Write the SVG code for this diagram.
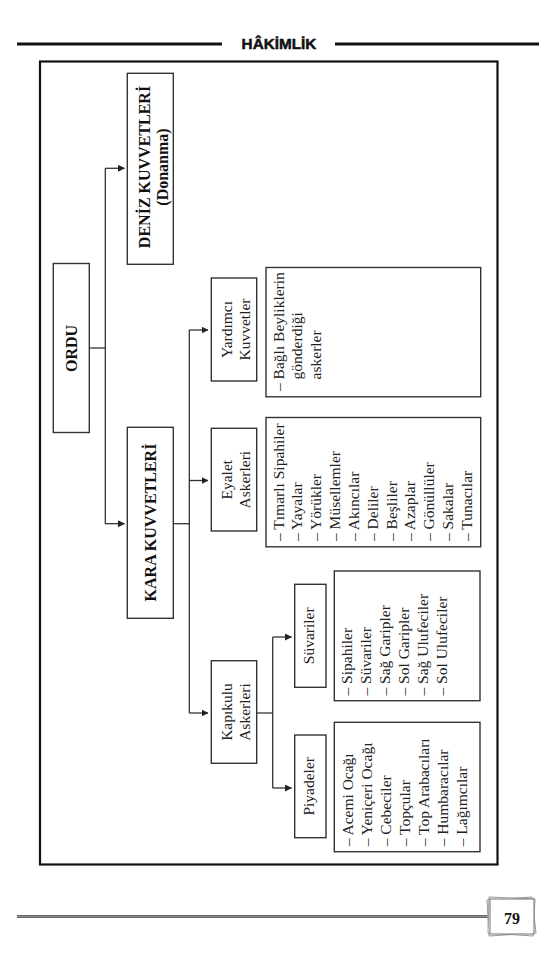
<svg xmlns="http://www.w3.org/2000/svg" width="557" height="960" viewBox="0 0 557 960">
<defs>
<marker id="ah" markerWidth="7" markerHeight="7" refX="6.5" refY="3.5" orient="auto" markerUnits="userSpaceOnUse">
<path d="M0,0 L7,3.5 L0,7 Z" fill="#222"/>
</marker>
<style>
.box{fill:#fff;stroke:#333;stroke-width:1.4}
.frame{fill:none;stroke:#111;stroke-width:2.2}
.conn{fill:none;stroke:#333;stroke-width:1.3}
.arr{fill:none;stroke:#333;stroke-width:1.3;marker-end:url(#ah)}
.t{font-family:"Liberation Serif","Times New Roman",serif;font-size:15.5px;fill:#222}
.tb{font-family:"Liberation Serif","Times New Roman",serif;font-size:16px;font-weight:bold;fill:#111}
.hd{font-family:"Liberation Sans",Arial,sans-serif;font-size:15.3px;font-weight:bold;fill:#111;stroke:#111;stroke-width:0.5}
</style>
</defs>
<rect width="557" height="960" fill="#fff"/>

<g id="header">
<line x1="17" y1="44" x2="222" y2="44" stroke="#111" stroke-width="3"/>
<line x1="335" y1="44" x2="539" y2="44" stroke="#111" stroke-width="3"/>
<text class="hd" x="279" y="48.5" text-anchor="middle">HÂKİMLİK</text>
</g>

<rect class="frame" x="40" y="61.5" width="457.5" height="803"/>

<g id="connectors">
<path class="conn" d="M89.3,348 H105.3"/>
<path class="conn" d="M105.3,168.3 V523.7"/>
<path class="arr" d="M105.3,168.3 H124.5"/>
<path class="arr" d="M105.3,523.7 H124.5"/>
<path class="conn" d="M173.3,523.7 H189.3"/>
<path class="conn" d="M189.3,330 V713"/>
<path class="arr" d="M189.3,330 H208"/>
<path class="arr" d="M189.3,480.5 H208"/>
<path class="arr" d="M189.3,713 H208"/>
<path class="conn" d="M256.7,713 H272.7"/>
<path class="conn" d="M272.7,637 V788"/>
<path class="arr" d="M272.7,637 H291.5"/>
<path class="arr" d="M272.7,788 H291.5"/>
</g>

<g id="ordu">
<rect class="box" x="53.3" y="263.5" width="36" height="169"/>
<text class="tb" transform="translate(0,348.5) rotate(-90)" text-anchor="middle" x="0" y="76.8">ORDU</text>
</g>

<g id="deniz">
<rect class="box" x="127.3" y="73.3" width="46" height="191"/>
<text class="tb" transform="translate(0,167) rotate(-90)" text-anchor="middle"><tspan x="0" y="149.8">DENİZ KUVVETLERİ</tspan><tspan x="0" y="167.8">(Donanma)</tspan></text>
</g>

<g id="kara">
<rect class="box" x="127.3" y="427.3" width="46" height="191"/>
<text class="tb" transform="translate(0,522.5) rotate(-90)" text-anchor="middle" x="0" y="156">KARA KUVVETLERİ</text>
</g>

<g id="yardimci">
<rect class="box" x="211.3" y="278" width="45.4" height="103"/>
<text class="t" transform="translate(0,329.5) rotate(-90)" text-anchor="middle"><tspan x="0" y="231.5">Yardımcı</tspan><tspan x="0" y="249.5">Kuvvetler</tspan></text>
</g>

<g id="eyalet">
<rect class="box" x="211.3" y="428.3" width="45.4" height="102.7"/>
<text class="t" transform="translate(0,479.7) rotate(-90)" text-anchor="middle"><tspan x="0" y="231.5">Eyalet</tspan><tspan x="0" y="249.5">Askerleri</tspan></text>
</g>

<g id="kapikulu">
<rect class="box" x="211.3" y="660.7" width="45.4" height="102.6"/>
<text class="t" transform="translate(0,712) rotate(-90)" text-anchor="middle"><tspan x="0" y="231.5">Kapıkulu</tspan><tspan x="0" y="249.5">Askerleri</tspan></text>
</g>

<g id="suvariler">
<rect class="box" x="294.7" y="584.3" width="31.3" height="103"/>
<text class="t" transform="translate(0,635.8) rotate(-90)" text-anchor="middle" x="0" y="314">Süvariler</text>
</g>

<g id="piyadeler">
<rect class="box" x="294.7" y="735" width="31.3" height="102.7"/>
<text class="t" transform="translate(0,786.3) rotate(-90)" text-anchor="middle" x="0" y="314">Piyadeler</text>
</g>

<g id="yardimci-list">
<rect class="box" x="266" y="267.5" width="214.7" height="129.3"/>
<text class="t" transform="translate(0,391) rotate(-90)"><tspan x="0" y="283.5">– Bağlı Beyliklerin</tspan><tspan x="11.6" y="302.3">gönderdiği</tspan><tspan x="11.6" y="321.2">askerler</tspan></text>
</g>

<g id="eyalet-list">
<rect class="box" x="266" y="417.5" width="214.7" height="129.3"/>
<text class="t" transform="translate(0,541) rotate(-90)"><tspan x="0" y="283.5">– Tımarlı Sipahiler</tspan><tspan x="0" y="302.3">– Yayalar</tspan><tspan x="0" y="321.2">– Yörükler</tspan><tspan x="0" y="340">– Müsellemler</tspan><tspan x="0" y="358.8">– Akıncılar</tspan><tspan x="0" y="377.7">– Deliler</tspan><tspan x="0" y="396.5">– Beşliler</tspan><tspan x="0" y="415.3">– Azaplar</tspan><tspan x="0" y="434.2">– Gönüllüler</tspan><tspan x="0" y="453">– Sakalar</tspan><tspan x="0" y="471.8">– Tunacılar</tspan></text>
</g>

<g id="suvariler-list">
<rect class="box" x="334.3" y="571" width="145.7" height="129.7"/>
<text class="t" transform="translate(0,695.5) rotate(-90)"><tspan x="0" y="352.3">– Sipahiler</tspan><tspan x="0" y="371.3">– Süvariler</tspan><tspan x="0" y="390.3">– Sağ Garipler</tspan><tspan x="0" y="409.3">– Sol Garipler</tspan><tspan x="0" y="428.3">– Sağ Ulufeciler</tspan><tspan x="0" y="447.3">– Sol Ulufeciler</tspan></text>
</g>

<g id="piyadeler-list">
<rect class="box" x="334.3" y="722.3" width="145.7" height="129.4"/>
<text class="t" transform="translate(0,846.3) rotate(-90)"><tspan x="0" y="352.5">– Acemi Ocağı</tspan><tspan x="0" y="371.5">– Yeniçeri Ocağı</tspan><tspan x="0" y="390.5">– Cebeciler</tspan><tspan x="0" y="409.5">– Topçular</tspan><tspan x="0" y="428.5">– Top Arabacıları</tspan><tspan x="0" y="447.5">– Humbaracılar</tspan><tspan x="0" y="466.5">– Lağımcılar</tspan></text>
</g>

<g id="footer">
<line x1="17" y1="916.5" x2="490" y2="916.5" stroke="#333" stroke-width="2.6"/>
<line x1="17" y1="916.5" x2="490" y2="916.5" stroke="#aaa" stroke-width="0.8"/>
<polygon points="487,900 532,897 536,933 489,936" fill="#fff" stroke="#999" stroke-width="1"/>
<polygon points="489,897 535,899 533,936 488,933" fill="#fff" stroke="#999" stroke-width="1"/>
<rect x="490" y="899" width="44" height="35" fill="#fff" stroke="#888" stroke-width="1.2"/>
<text class="tb" x="512" y="923.5" font-size="18" text-anchor="middle">79</text>
</g>
</svg>
